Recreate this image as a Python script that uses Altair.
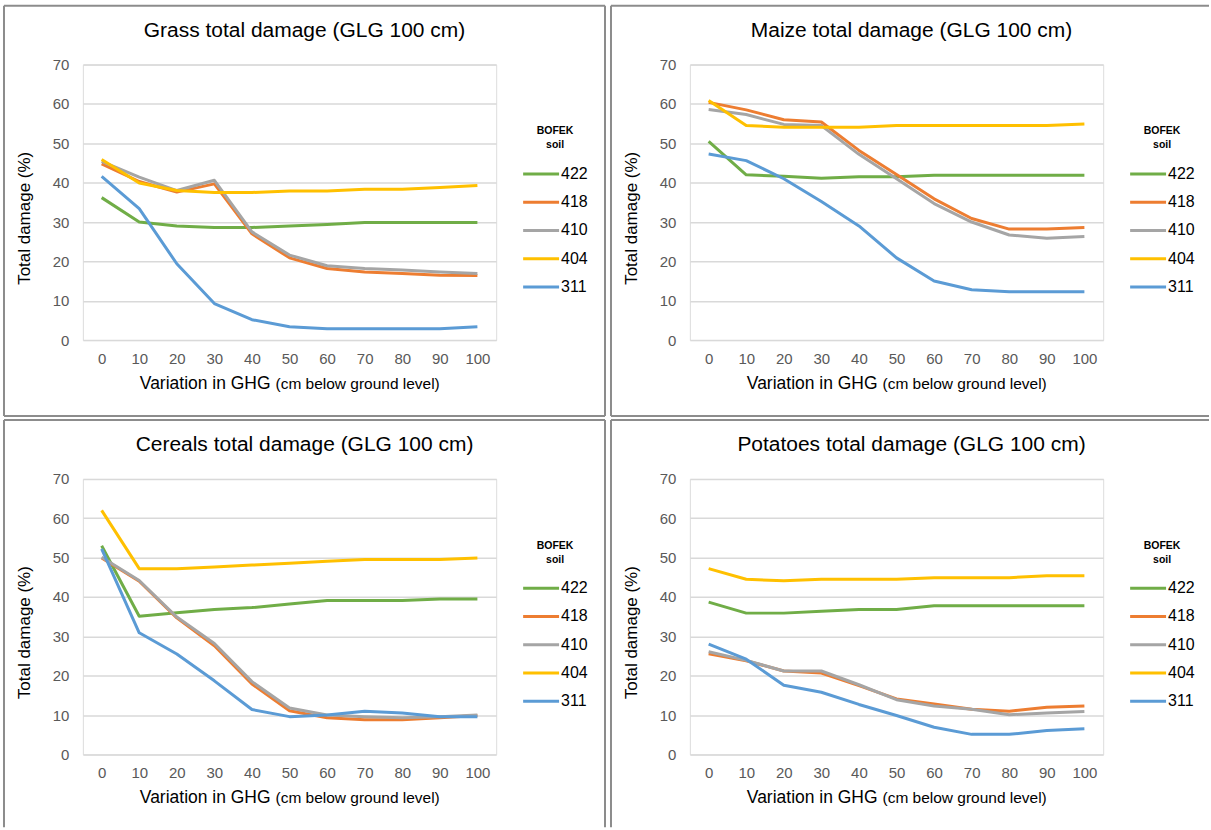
import altair as alt
import pandas as pd

# ---------------- data ----------------
ghg = [0, 10, 20, 30, 40, 50, 60, 70, 80, 90, 100]
soils = ["422", "418", "410", "404", "311"]
soil_colors = ["#70AD47", "#ED7D31", "#A5A5A5", "#FFC000", "#5B9BD5"]

grass_422 = [36.2, 30.0, 29.0, 28.6, 28.6, 29.0, 29.4, 29.9, 29.9, 29.9, 29.9]
grass_418 = [44.8, 40.3, 37.6, 39.7, 27.0, 20.9, 18.2, 17.3, 16.9, 16.5, 16.4]
grass_410 = [45.4, 41.4, 38.0, 40.6, 27.5, 21.6, 18.9, 18.2, 17.8, 17.3, 16.9]
grass_404 = [45.9, 39.9, 38.0, 37.5, 37.5, 37.9, 37.9, 38.3, 38.3, 38.8, 39.3]
grass_311 = [41.6, 33.4, 19.4, 9.3, 5.2, 3.4, 2.9, 2.9, 2.9, 2.9, 3.4]

maize_422 = [50.5, 42.0, 41.6, 41.1, 41.5, 41.5, 41.9, 41.9, 41.9, 41.9, 41.9]
maize_418 = [60.4, 58.5, 56.0, 55.4, 48.2, 42.1, 35.9, 30.9, 28.2, 28.2, 28.6]
maize_410 = [58.6, 57.3, 54.8, 54.5, 47.2, 41.0, 34.7, 30.0, 26.7, 25.9, 26.3]
maize_404 = [60.9, 54.5, 54.1, 54.1, 54.1, 54.5, 54.5, 54.5, 54.5, 54.5, 54.9]
maize_311 = [47.3, 45.6, 41.0, 35.2, 29.0, 20.9, 15.0, 12.8, 12.3, 12.3, 12.3]

cereals_422 = [53.0, 35.1, 36.0, 36.8, 37.3, 38.2, 39.1, 39.1, 39.1, 39.5, 39.5]
cereals_418 = [49.9, 44.0, 34.7, 27.6, 17.9, 11.1, 9.3, 8.8, 8.8, 9.3, 9.9]
cereals_410 = [50.1, 44.2, 34.9, 28.2, 18.5, 11.8, 10.0, 9.6, 9.3, 9.6, 10.0]
cereals_404 = [62.0, 47.2, 47.2, 47.6, 48.1, 48.6, 49.1, 49.5, 49.5, 49.5, 49.9]
cereals_311 = [52.2, 30.9, 25.5, 18.7, 11.4, 9.6, 10.0, 11.0, 10.5, 9.6, 9.6]

potatoes_422 = [38.7, 35.9, 35.9, 36.4, 36.8, 36.8, 37.8, 37.8, 37.8, 37.8, 37.8]
potatoes_418 = [25.6, 23.8, 21.2, 20.7, 17.5, 14.1, 12.8, 11.5, 11.0, 12.0, 12.3]
potatoes_410 = [26.1, 23.9, 21.2, 21.2, 17.7, 13.9, 12.3, 11.5, 10.1, 10.5, 10.9]
potatoes_404 = [47.2, 44.5, 44.1, 44.5, 44.5, 44.5, 44.9, 44.9, 44.9, 45.4, 45.4]
potatoes_311 = [28.0, 24.2, 17.6, 15.8, 12.7, 9.9, 6.9, 5.1, 5.1, 6.1, 6.5]

panels = [
    ("Grass total damage (GLG 100 cm)", [grass_422, grass_418, grass_410, grass_404, grass_311]),
    ("Maize total damage (GLG 100 cm)", [maize_422, maize_418, maize_410, maize_404, maize_311]),
    ("Cereals total damage (GLG 100 cm)", [cereals_422, cereals_418, cereals_410, cereals_404, cereals_311]),
    ("Potatoes total damage (GLG 100 cm)", [potatoes_422, potatoes_418, potatoes_410, potatoes_404, potatoes_311]),
]

FONT = "Liberation Sans"
W, H = 414, 276
FRAME = "#8C8C8C"
one = alt.Data(values=[{}])


def rule(x, x2, y, y2):
    return alt.Chart(one).mark_rule(color=FRAME, strokeWidth=2).encode(
        x=alt.value(x), x2=alt.value(x2), y=alt.value(y), y2=alt.value(y2)
    )


def text(t, x, y, size, align="center", baseline="middle", angle=0):
    kw = dict(text=t, font=FONT, fontSize=size, color="#000000", align=align, baseline=baseline)
    if angle:
        kw["angle"] = angle
    return alt.Chart(one).mark_text(**kw).encode(x=alt.value(x), y=alt.value(y))


def panel(idx, title, series):
    rows = []
    for s, vals in zip(soils, series):
        for g, v in zip(ghg, vals):
            rows.append({"soil": s, "ghg": g, "damage": v})
    df = pd.DataFrame(rows)

    lines = alt.Chart(df).mark_line(strokeWidth=3, strokeJoin="round").encode(
        x=alt.X("ghg:Q",
                scale=alt.Scale(domain=[-5, 105], nice=False, zero=False),
                axis=alt.Axis(values=ghg, grid=False, ticks=False, tickSize=0, domain=False,
                              labelPadding=11, labelFontSize=15, labelColor="#595959",
                              labelFont=FONT, title=None)),
        y=alt.Y("damage:Q",
                scale=alt.Scale(domain=[0, 70], nice=False),
                axis=alt.Axis(values=[0, 10, 20, 30, 40, 50, 60, 70], grid=True,
                              gridColor="#D9D9D9", gridWidth=1.5, ticks=False, tickSize=0,
                              domain=False, labelPadding=14, labelFontSize=15,
                              labelColor="#595959", labelFont=FONT, title=None)),
        color=alt.Color("soil:N",
                        scale=alt.Scale(domain=soils, range=soil_colors),
                        sort=soils,
                        legend=alt.Legend(title=["BOFEK", "soil"], orient="none",
                                          legendX=441, legendY=62, padding=0,
                                          symbolType="M-3,0L3,0", symbolSize=144,
                                          symbolStrokeWidth=3, symbolOffset=10,
                                          labelOffset=12, labelFontSize=16,
                                          labelColor="#000000", labelFont=FONT,
                                          titleFont=FONT, titleFontSize=10.5,
                                          titleFontWeight="bold", titleColor="#000000",
                                          titleLineHeight=14, titleAnchor="middle",
                                          titleAlign="center", titlePadding=15,
                                          rowPadding=12.3)),
    )

    left, right, top, bottom = -79, 523, -59, 352
    right_col = idx % 2 == 1
    bottom_row = idx >= 2
    xr = 520 if right_col else right
    yb = 349 if bottom_row else bottom
    frame = [rule(left, xr, top, top), rule(left, left, top, yb)]
    if not right_col:
        frame.append(rule(right, right, top, yb))
    if not bottom_row:
        frame.append(rule(left, xr, bottom, bottom))

    labels = [
        text(title, 222, -34, 21),
        text("Total damage (%)", -58, 154, 17, angle=270),
        text("Variation in GHG", 188, 325, 17.5, align="right", baseline="alphabetic"),
        text("(cm below ground level)", 193, 325, 15.5, align="left", baseline="alphabetic"),
    ]
    return alt.layer(*frame, lines, *labels).properties(width=W, height=H)


charts = [panel(i, t, s) for i, (t, s) in enumerate(panels)]

chart = (
    alt.concat(*charts, columns=2, spacing={"row": 0, "column": 2})
    .resolve_scale(color="independent")
    .resolve_legend(color="independent")
    .properties(padding={"left": 2, "top": 3, "right": 0, "bottom": 0})
    .configure_view(stroke="transparent")
    .configure(background="white")
)

chart.save("out.html", embed_options={"renderer": "svg", "actions": False})
